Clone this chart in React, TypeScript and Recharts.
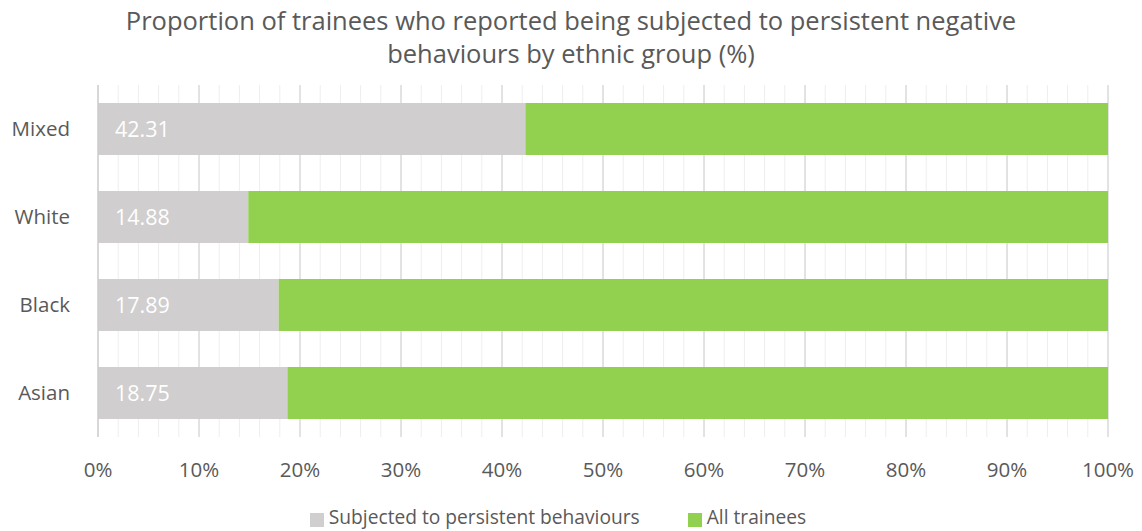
import { BarChart, Bar, XAxis, YAxis, CartesianGrid, LabelList } from "recharts";

const categories = ["Mixed", "White", "Black", "Asian"];
const subjected = [42.31, 14.88, 17.89, 18.75];
const allTrainees = [57.69, 85.12, 82.11, 81.25];
const minorTicks = [0, 2, 4, 6, 8, 10, 12, 14, 16, 18, 20, 22, 24, 26, 28, 30, 32, 34, 36, 38, 40, 42, 44, 46, 48, 50, 52, 54, 56, 58, 60, 62, 64, 66, 68, 70, 72, 74, 76, 78, 80, 82, 84, 86, 88, 90, 92, 94, 96, 98, 100];
const majorTicks = [0, 10, 20, 30, 40, 50, 60, 70, 80, 90, 100];

const series = [
  { key: "subjected", name: "Subjected to persistent behaviours", color: "#d0cece" },
  { key: "all", name: "All trainees", color: "#92d050" },
];

const data = categories.map((name, i) => ({
  name,
  subjected: subjected[i],
  all: allTrainees[i],
}));

if (typeof document !== "undefined") document.body.style.margin = "0";

const FONT = "'Open Sans', sans-serif";
const GREY_TEXT = "#595959";

// major gridlines every 10%, placed through the x axis scale when it is available
const majorLines = ({ xAxis, offset }: any) =>
  majorTicks.map((t) =>
    xAxis && typeof xAxis.scale === "function" ? xAxis.scale(t) : offset.left + (offset.width * t) / 100
  );

const App = () => {
  return (
    <div style={{ position: "relative", width: 1142, height: 531, fontFamily: FONT, background: "#fff", overflow: "hidden" }}>
      <div
        style={{
          position: "absolute",
          top: 4,
          left: 0,
          width: 1142,
          textAlign: "center",
          fontSize: 25.5,
          lineHeight: "33px",
          color: GREY_TEXT,
        }}
      >
        Proportion of trainees who reported being subjected to persistent negative
        <br />
        behaviours by ethnic group (%)
      </div>
      <BarChart
        width={1142}
        height={531}
        data={data}
        layout="vertical"
        margin={{ top: 85, right: 34, left: 0, bottom: 34 }}
      >
        <CartesianGrid horizontal={false} stroke="#eeeeee" strokeWidth={1} />
        <CartesianGrid horizontal={false} verticalCoordinatesGenerator={majorLines} stroke="#d6d6d6" strokeWidth={1.2} />
        <XAxis
          type="number"
          domain={[0, 100]}
          ticks={minorTicks}
          interval={0}
          tickFormatter={(v) => (v % 10 === 0 ? `${v}%` : "")}
          axisLine={false}
          tickLine={false}
          tickSize={6}
          tickMargin={19}
          tick={{ fill: GREY_TEXT, fontSize: 20.5, fontFamily: FONT }}
          height={60}
        />
        <YAxis
          type="category"
          dataKey="name"
          width={98}
          axisLine={{ stroke: "#cccccc" }}
          tickLine={false}
          tickMargin={22}
          tick={{ fill: GREY_TEXT, fontSize: 20.5, fontFamily: FONT }}
        />
        {series.map((s, idx) => (
          <Bar key={s.key} dataKey={s.key} name={s.name} stackId="a" fill={s.color} barSize={52} isAnimationActive={false}>
            {idx === 0 && (
              <LabelList dataKey={s.key} position="insideLeft" offset={17} fill="#ffffff" fontSize={21.5} fontFamily={FONT} />
            )}
          </Bar>
        ))}
      </BarChart>
      <div
        style={{
          position: "absolute",
          top: 505,
          left: 0,
          width: 1142,
          display: "flex",
          justifyContent: "center",
          gap: 48,
          fontSize: 19.2,
          lineHeight: "24px",
          color: GREY_TEXT,
          paddingRight: 26,
          boxSizing: "border-box",
        }}
      >
        {series.map((s) => (
          <div key={s.key} style={{ display: "flex", alignItems: "center" }}>
            <span style={{ display: "inline-block", width: 14, height: 14, background: s.color, marginRight: 5, marginTop: 6 }} />
            <span>{s.name}</span>
          </div>
        ))}
      </div>
    </div>
  );
};

export default App;
